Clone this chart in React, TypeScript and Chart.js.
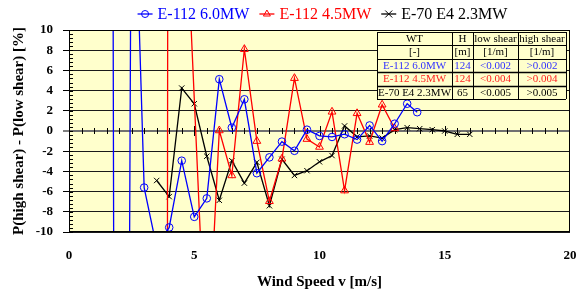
import { useEffect, useRef } from 'react';
import { Chart, registerables } from 'chart.js';

Chart.register(...registerables);

// ---------- data ----------
const seriesNames = ['E-112 6.0MW', 'E-112 4.5MW', 'E-70 E4 2.3MW'];
const seriesColors = ['#0000FF', '#FF0000', '#000000'];

const blueSpeeds = [1.5, 2, 2.5, 3, 3.5, 4, 4.5, 5, 5.5, 6, 6.5, 7, 7.5, 8, 8.5, 9, 9.5, 10, 10.5, 11, 11.5, 12, 12.5, 13, 13.5, 13.9];
const blueValues = [300, -250, 35, -5.6, -11.5, -9.55, -2.94, -8.5, -6.67, 5.13, 0.33, 3.14, -4.18, -2.61, -1.05, -1.96, 0.13, -0.49, -0.59, -0.32, -0.85, 0.55, -1.0, 0.72, 2.7, 1.86];

const redSpeeds = [3.5, 4, 4.5, 5.5, 6, 6.5, 7, 7.5, 8, 8.5, 9, 9.5, 10, 10.5, 11, 11.5, 12, 12.5, 13];
const redValues = [-1000, 150, 31, -24.5, 0.05, -4.4, 8.1, -1.0, -6.96, -2.75, 5.23, -0.8, -1.58, 1.9, -5.9, 1.75, -1.1, 2.6, 0.25];

const blackSpeeds = [3.5, 4, 4.5, 5, 5.5, 6, 6.5, 7, 7.5, 8, 8.5, 9, 9.5, 10, 10.5, 11, 11.5, 12, 12.5, 13, 13.5, 14, 14.5, 15, 15.5, 16];
const blackValues = [-4.9, -6.5, 4.25, 2.7, -2.5, -6.86, -2.94, -5.16, -3.1, -7.4, -2.8, -4.4, -3.93, -3.05, -2.43, 0.5, -0.58, -0.49, -0.7, 0.13, 0.33, 0.23, 0.13, 0.0, -0.33, -0.33];

const xMin = 0, xMax = 20, xStep = 5, xMinorStep = 0.5;
const yMin = -10, yMax = 10, yStep = 2, yMinorStep = 0.4;

const xTitle = 'Wind Speed v [m/s]';
const yTitle = 'P(high shear) - P(low shear) [%]';

const tableHeader = ['WT', 'H', 'low shear', 'high shear'];
const tableUnits = ['[-]', '[m]', '[1/m]', '[1/m]'];
const tableHubHeights = ['124', '124', '65'];
const tableLowShear = ['<0.002', '<0.004', '<0.005'];
const tableHighShear = ['>0.002', '>0.004', '>0.005'];

const BG = '#FFFFCC';
const SERIF = "'Liberation Serif', 'Times New Roman', serif";
const pointStyles = ['circle', 'triangle', 'crossRot'];

function toXY(xs: number[], ys: number[]) {
  return xs.map((x, i) => ({ x, y: ys[i] }));
}

function drawMarker(ctx: CanvasRenderingContext2D, style: string, x: number, y: number, color: string) {
  ctx.save();
  ctx.strokeStyle = color;
  ctx.lineWidth = 1;
  ctx.beginPath();
  if (style === 'circle') {
    ctx.arc(x, y, 3.5, 0, Math.PI * 2);
  } else if (style === 'triangle') {
    const r = 4;
    ctx.moveTo(x, y - r);
    ctx.lineTo(x + r * 0.866, y + r * 0.5);
    ctx.lineTo(x - r * 0.866, y + r * 0.5);
    ctx.closePath();
  } else {
    const r = 3.5;
    ctx.moveTo(x - r, y - r);
    ctx.lineTo(x + r, y + r);
    ctx.moveTo(x + r, y - r);
    ctx.lineTo(x - r, y + r);
  }
  ctx.stroke();
  ctx.restore();
}

const decorPlugin = {
  id: 'decor',
  beforeDraw(chart: any) {
    const { ctx, chartArea: a } = chart;
    ctx.save();
    ctx.fillStyle = '#FFFFFF';
    ctx.fillRect(0, 0, chart.width, chart.height);
    ctx.fillStyle = BG;
    ctx.fillRect(a.left, a.top, a.right - a.left, a.bottom - a.top);
    ctx.restore();
  },
  beforeDatasetsDraw(chart: any) {
    const { ctx, chartArea: a, scales } = chart;
    const xs = scales.x, ys = scales.y;
    ctx.save();
    ctx.strokeStyle = '#000';
    ctx.lineWidth = 1;
    // minor ticks inside the y axis
    const nY = Math.round((yMax - yMin) / yMinorStep);
    for (let i = 0; i <= nY; i++) {
      const v = yMin + i * yMinorStep;
      const py = Math.round(ys.getPixelForValue(v)) + 0.5;
      ctx.beginPath();
      ctx.moveTo(a.left, py);
      ctx.lineTo(a.left + 4, py);
      ctx.stroke();
    }
    // cross ticks on the zero line
    const y0 = Math.round(ys.getPixelForValue(0));
    const nX = Math.round((xMax - xMin) / xMinorStep);
    for (let i = 1; i < nX; i++) {
      const v = xMin + i * xMinorStep;
      const px = Math.round(xs.getPixelForValue(v)) + 0.5;
      const len = Math.abs(v % xStep) < 1e-6 ? 5 : 3;
      ctx.beginPath();
      ctx.moveTo(px, y0 - len);
      ctx.lineTo(px, y0 + len);
      ctx.stroke();
    }
    ctx.restore();
  },
  afterDatasetsDraw(chart: any) {
    const { ctx, chartArea: a } = chart;
    ctx.save();
    // frame
    ctx.strokeStyle = '#000';
    ctx.lineWidth = 1;
    ctx.strokeRect(a.left + 0.5, a.top + 0.5, a.right - a.left - 1, a.bottom - a.top - 1);

    // table
    const colW = [75, 21, 45, 48];
    const rowH = 13.4;
    const tw = colW.reduce((s, w) => s + w, 0);
    const right = a.right - 4;
    const left = right - tw;
    const top = a.top + 2;
    const rows: string[][] = [tableHeader, tableUnits];
    const rowColors = ['#000', '#000'];
    for (let i = 0; i < seriesNames.length; i++) {
      rows.push([seriesNames[i], tableHubHeights[i], tableLowShear[i], tableHighShear[i]]);
      rowColors.push(seriesColors[i] === '#0000FF' ? '#3333FF' : seriesColors[i] === '#FF0000' ? '#FF2020' : '#000');
    }
    const th = rowH * rows.length;
    ctx.fillStyle = BG;
    ctx.fillRect(left, top, tw, th);
    ctx.font = `11px ${SERIF}`;
    ctx.textAlign = 'center';
    ctx.textBaseline = 'middle';
    rows.forEach((r, ri) => {
      let cx = left;
      r.forEach((t, ci) => {
        ctx.fillStyle = rowColors[ri];
        ctx.fillText(t, cx + colW[ci] / 2, top + rowH * ri + rowH / 2 + 0.5);
        cx += colW[ci];
      });
    });
    ctx.strokeStyle = '#000';
    for (let ri = 0; ri <= rows.length; ri++) {
      const yy = Math.round(top + ri * rowH) + 0.5;
      ctx.lineWidth = ri === 3 || ri === 4 ? 1.5 : 1;
      ctx.beginPath();
      ctx.moveTo(left, yy);
      ctx.lineTo(right, yy);
      ctx.stroke();
    }
    ctx.lineWidth = 1;
    let cx = left;
    for (let ci = 0; ci <= colW.length; ci++) {
      const xx = Math.round(cx) + 0.5;
      ctx.beginPath();
      ctx.moveTo(xx, top);
      ctx.lineTo(xx, top + th);
      ctx.stroke();
      if (ci < colW.length) cx += colW[ci];
    }
    ctx.restore();
  },
  afterDraw(chart: any) {
    const { ctx, chartArea: a } = chart;
    ctx.save();
    ctx.font = `16px ${SERIF}`;
    const widths = seriesNames.map((n) => ctx.measureText(n).width);
    const lineLen = 15, gap = 5, itemGap = 10;
    const total = widths.reduce((s, w) => s + w, 0) + seriesNames.length * (lineLen + gap) + (seriesNames.length - 1) * itemGap;
    let x = (a.left + a.right) / 2 + 3 - total / 2;
    const y = 14;
    seriesNames.forEach((n, i) => {
      ctx.strokeStyle = seriesColors[i];
      ctx.lineWidth = 1.3;
      ctx.beginPath();
      ctx.moveTo(x, y);
      ctx.lineTo(x + lineLen, y);
      ctx.stroke();
      drawMarker(ctx, pointStyles[i], x + lineLen / 2, y, seriesColors[i]);
      ctx.fillStyle = seriesColors[i];
      ctx.textAlign = 'left';
      ctx.textBaseline = 'middle';
      ctx.fillText(n, x + lineLen + gap, y + 1);
      x += lineLen + gap + widths[i] + itemGap;
    });
    ctx.restore();
  },
};

export default function App() {
  const ref = useRef<HTMLCanvasElement | null>(null);
  useEffect(() => {
    document.body.style.margin = '0';
    if (!ref.current) return;
    const datasets = [
      { xs: blueSpeeds, ys: blueValues },
      { xs: redSpeeds, ys: redValues },
      { xs: blackSpeeds, ys: blackValues },
    ].map((d, i) => ({
      label: seriesNames[i],
      data: toXY(d.xs, d.ys),
      borderColor: seriesColors[i],
      backgroundColor: 'rgba(0,0,0,0)',
      borderWidth: 1.3,
      pointStyle: pointStyles[i],
      pointRadius: i === 1 ? 4.5 : 3.8,
      pointBorderWidth: 1,
      pointBorderColor: seriesColors[i],
      pointBackgroundColor: 'rgba(0,0,0,0)',
      tension: 0,
      fill: false,
    }));
    const chart = new Chart(ref.current, {
      type: 'line',
      data: { datasets },
      plugins: [decorPlugin],
      options: {
        animation: false,
        responsive: false,
        devicePixelRatio: 1,
        layout: { padding: { top: 30, right: 14, left: 0, bottom: 0 } },
        plugins: { legend: { display: false }, tooltip: { enabled: false } },
        scales: {
          x: {
            type: 'linear',
            min: xMin,
            max: xMax,
            ticks: { stepSize: xStep, color: '#000', font: { family: SERIF, size: 13, weight: 'bold' }, padding: 0 },
            grid: { display: true, drawOnChartArea: false, drawTicks: true, tickLength: 16, tickColor: 'rgba(0,0,0,0)', color: 'rgba(0,0,0,0)' },
            border: { display: false },
            title: { display: true, text: xTitle, color: '#000', font: { family: SERIF, size: 15, weight: 'bold' }, padding: { top: 0, bottom: 3 } },
            afterFit: (s: any) => { s.height = 62; },
          },
          y: {
            min: yMin,
            max: yMax,
            ticks: { stepSize: yStep, color: '#000', font: { family: SERIF, size: 13, weight: 'bold' }, padding: 10 },
            grid: {
              color: (c: any) => (c.tick && c.tick.value === 0 ? '#707070' : '#1a1a1a'),
              lineWidth: (c: any) => (c.tick && c.tick.value === 0 ? 2 : 1),
              tickColor: '#000',
              tickWidth: 1,
              tickLength: 6,
            },
            border: { display: false },
            title: { display: true, text: yTitle, color: '#000', font: { family: SERIF, size: 15, weight: 'bold' }, padding: { top: 10, bottom: 0 } },
            afterFit: (s: any) => { s.width = 69; },
          },
        },
      } as any,
    });
    return () => chart.destroy();
  }, []);
  return (
    <div style={{ width: 584, height: 294 }}>
      <canvas ref={ref} width={584} height={294} style={{ display: 'block' }} />
    </div>
  );
}
